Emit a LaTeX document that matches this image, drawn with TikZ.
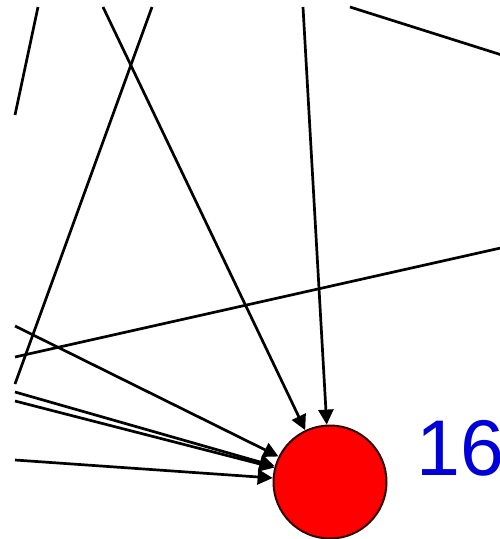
\documentclass[tikz,border=0pt]{standalone}
\usepackage{fontspec}
\setmainfont{Liberation Sans}
\usetikzlibrary{arrows.meta}
\begin{document}
\begin{tikzpicture}[x=1pt,y=-1pt,
  edge/.style={draw=black,line width=2.7pt},
  arc/.style={edge,-{Triangle[length=15pt,width=15pt]}},
  vertex/.style={circle,fill=red,draw=black!80!red,line width=2pt,minimum size=113pt,inner sep=0pt},
  vlabel/.style={text=blue!85!black,inner sep=0pt,anchor=base west,font=\fontsize{79}{90}\selectfont}]
\useasboundingbox (0,0) rectangle (500,539);
\clip (0,0) rectangle (500,539);
\fill[white] (0,0) rectangle (500,539);
% free ends
\coordinate (a1) at (38,7);
\coordinate (a2) at (15,115);
\coordinate (b1) at (103,7);
\coordinate (c1) at (152,7);
\coordinate (c2) at (15,384);
\coordinate (d1) at (303,7);
\coordinate (e1) at (350,7);
\coordinate (e2) at (505,56);
\coordinate (f1) at (505,247);
\coordinate (f2) at (15,357);
\coordinate (g1) at (15,326);
\coordinate (h1) at (15,392);
\coordinate (h2) at (15,401);
\coordinate (i1) at (15,460);
% node
\node[vertex] (n16) at (330,482) {};
\node[vlabel] (l16) at (416,475) {16};
% connectors
\draw[edge] (a1) -- (a2);
\draw[edge] (c1) -- (c2);
\draw[edge] (e1) -- (e2);
\draw[edge] (f1) -- (f2);
\draw[arc] (b1) -- (n16);
\draw[arc] (d1) -- (n16);
\draw[arc] (g1) -- (n16);
\draw[arc] (h1) -- (n16);
\draw[arc] (h2) -- (n16);
\draw[arc] (i1) -- (n16);
\end{tikzpicture}
\end{document}
